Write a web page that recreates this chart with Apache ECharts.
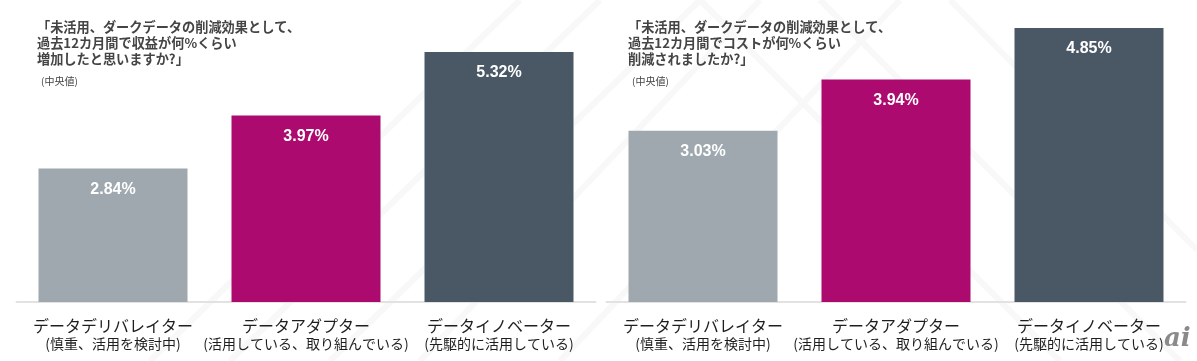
<!DOCTYPE html>
<html>
<head>
<meta charset="utf-8">
<script src="https://cdn.jsdelivr.net/npm/echarts@6/dist/echarts.min.js"></script>
<style>
html,body{margin:0;padding:0;background:#fff;}
#c{width:1197px;height:361px;}
</style>
</head>
<body>
<div id="c"></div>
<script>
const categoryNames = ['データデリバレイター', 'データアダプター', 'データイノベーター'];
const categoryNotes = ['(慎重、活用を検討中)', '(活用している、取り組んでいる)', '(先駆的に活用している)'];
const revenueValues = [2.84, 3.97, 5.32];
const costValues = [3.03, 3.94, 4.85];
const barColors = ['#9ea8ae', '#ad0a6f', '#4a5866'];
const revenueTitle = '「未活用、ダークデータの削減効果として、\n過去12カ月間で収益が何%くらい\n増加したと思いますか?」';
const costTitle = '「未活用、ダークデータの削減効果として、\n過去12カ月間でコストが何%くらい\n削減されましたか?」';
const noteText = '(中央値)';

const cats = categoryNames.map((n, i) => n + '\n' + categoryNotes[i]);
const jp = '"Noto Sans CJK JP", "Noto Sans", sans-serif';

function xAxis(gi) {
  return {
    type: 'category', gridIndex: gi, data: cats,
    axisTick: { show: false },
    axisLine: { lineStyle: { color: '#e2e2e2', width: 2 } },
    axisLabel: {
      interval: 0, margin: 15,
      formatter: (v) => { const p = v.split('\n'); return '{a|' + p[0] + '}\n{b|' + p[1] + '}'; },
      rich: {
        a: { fontSize: 16, lineHeight: 18, color: '#1e1e1e', fontFamily: jp },
        b: { fontSize: 14, lineHeight: 17, color: '#1e1e1e', fontFamily: jp }
      }
    }
  };
}
function yAxis(gi, max) {
  return { type: 'value', gridIndex: gi, min: 0, max: max, show: false, splitLine: { show: false } };
}
function series(gi, vals) {
  return {
    type: 'bar', xAxisIndex: gi, yAxisIndex: gi, barWidth: 149,
    data: vals.map((v, i) => ({ value: v, itemStyle: { color: barColors[i] } })),
    label: {
      show: true, position: 'insideTop', distance: 13,
      formatter: (p) => p.value.toFixed(2) + '%',
      color: '#fff', fontSize: 16, fontWeight: 'bold',
      fontFamily: '"Liberation Sans", Arial, sans-serif'
    },
    silent: true
  };
}
const deco = [];
const lines = [[150,361,520,0],[230,361,600,0],[330,361,700,0],[420,361,760,0],[560,361,900,0],[700,0,1060,361],[820,0,1180,361],[950,0,1197,250]];
lines.forEach(l => deco.push({ type: 'line', z: -10, shape: { x1: l[0], y1: l[1], x2: l[2], y2: l[3] }, style: { stroke: '#f8f8f9', lineWidth: 6 } }));

const titleStyle = { fontSize: 13.2, fontWeight: 'bold', color: '#444', lineHeight: 16, fontFamily: jp };
const noteStyle = { fontSize: 10, fontWeight: 'normal', color: '#444', fontFamily: jp };
const chart = echarts.init(document.getElementById('c'));
chart.setOption({
  animation: false,
  backgroundColor: '#fff',
  title: [
    { text: revenueTitle, left: 32, top: 13.5, textStyle: titleStyle },
    { text: costTitle, left: 623, top: 13.5, textStyle: titleStyle },
    { text: noteText, left: 36, top: 71, textStyle: noteStyle },
    { text: noteText, left: 627, top: 71, textStyle: noteStyle }
  ],
  grid: [
    { left: 16.5, width: 579, top: 20, bottom: 59 },
    { left: 606.5, width: 579, top: 19.5, bottom: 59 }
  ],
  xAxis: [xAxis(0), xAxis(1)],
  yAxis: [yAxis(0, 6), yAxis(1, 5)],
  series: [series(0, revenueValues), series(1, costValues)],
  graphic: deco.concat([
    { type: 'text', left: 1164, top: 326, style: { text: 'ai', font: 'italic bold 26px "DejaVu Serif", serif', fill: '#8a8a8a' } }
  ])
});
</script>
</body>
</html>
